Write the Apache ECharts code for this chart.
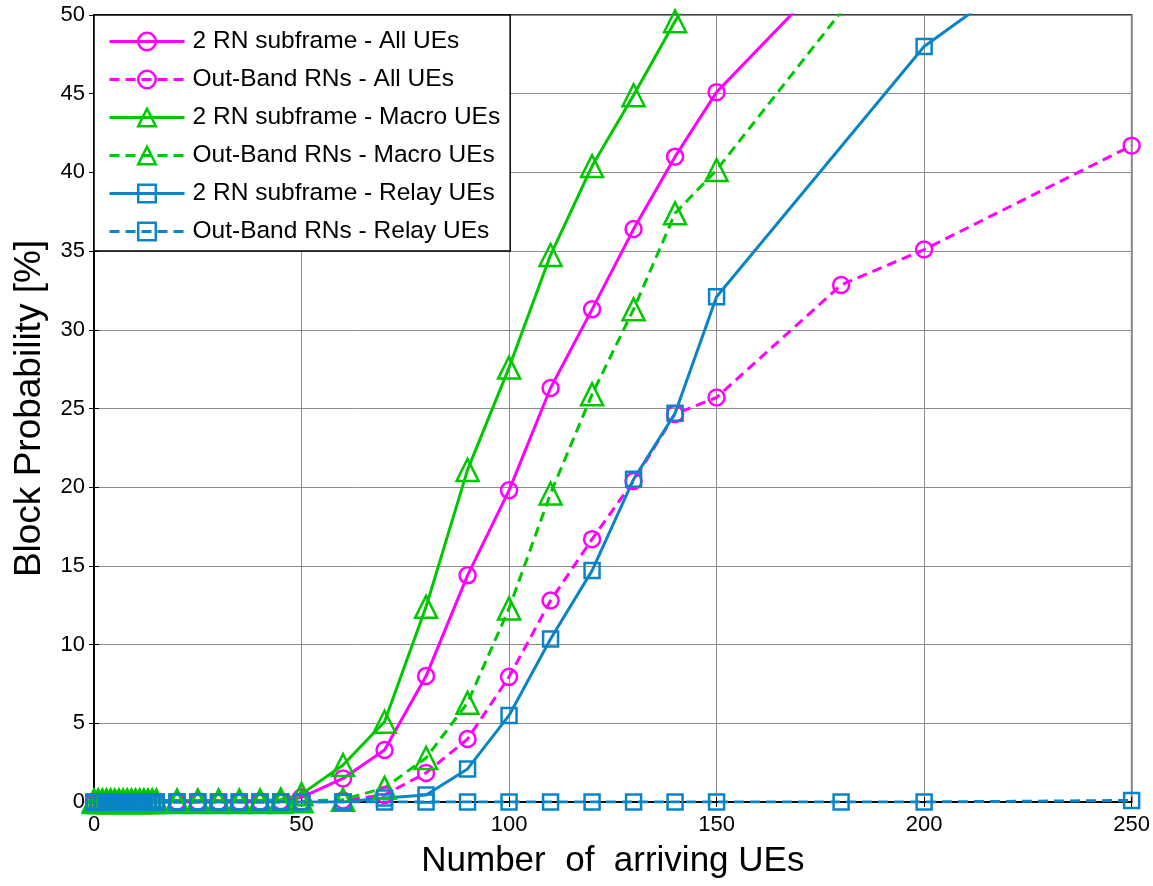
<!DOCTYPE html>
<html>
<head>
<meta charset="utf-8">
<script src="https://cdn.jsdelivr.net/npm/echarts@6/dist/echarts.min.js"></script>
<style>
html,body{margin:0;padding:0;background:#fff;}
#chart{width:1153px;height:886px;}
</style>
</head>
<body>
<div id="chart"></div>
<script>
// Number of arriving UEs
var xValues = [0,1,2,3,4,5,6,7,8,9,10,11,12,13,14,15,20,25,30,35,40,45,50,60,70,80,90,100,110,120,130,140,150,180,200,250];

var allUEs2RN      = [0,0,0,0,0,0,0,0,0,0,0,0,0,0,0,0,0,0,0,0,0,0.05,0.3,1.5,3.3,8.0,14.4,19.8,26.3,31.3,36.4,41.0,45.1,53.3,57.5,66.0];
var allUEsOutBand  = [0,0,0,0,0,0,0,0,0,0,0,0,0,0,0,0,0,0,0,0,0,0,0,0.1,0.45,1.85,4.0,7.95,12.8,16.7,20.4,24.65,25.7,32.85,35.1,41.7];
var macroUEs2RN    = [0.1,0.1,0.1,0.1,0.1,0.1,0.1,0.1,0.1,0.1,0.1,0.1,0.1,0.1,0.1,0.1,0.1,0.1,0.1,0.1,0.1,0.15,0.5,2.35,5.1,12.4,21.1,27.6,34.75,40.4,44.9,49.6,54.0,62.0,66.0,75.0];
var macroUEsOutBand= [0,0,0,0,0,0,0,0,0,0,0,0,0,0,0,0,0,0,0,0,0,0,0.05,0.15,0.9,2.8,6.3,12.3,19.6,25.9,31.3,37.4,40.15,50.2,57.0,70.0];
var relayUEs2RN    = [0,0,0,0,0,0,0,0,0,0,0,0,0,0,0,0,0,0,0,0,0,0,0,0,0.25,0.45,2.1,5.5,10.35,14.7,20.5,24.7,32.1,null,48.0,57.5];
var relayUEsOutBand= [0,0,0,0,0,0,0,0,0,0,0,0,0,0,0,0,0,0,0,0,0,0,0,0,0,0,0,0,0,0,0,0,0,0,0,0.1];

var seriesNames = [
  '2 RN subframe - All UEs',
  'Out-Band RNs - All UEs',
  '2 RN subframe - Macro UEs',
  'Out-Band RNs - Macro UEs',
  '2 RN subframe - Relay UEs',
  'Out-Band RNs - Relay UEs'
];
var xTickValues = [0,50,100,150,200,250];
var yTickValues = [0,5,10,15,20,25,30,35,40,45,50];

var MAG = '#FF00FF', GRN = '#00C800', BLU = '#0B84C7';
var FONT = 'Liberation Sans, Arial, sans-serif';

function pairs(ys){
  var out = [];
  for (var i = 0; i < xValues.length; i++) out.push([xValues[i], ys[i]]);
  return out;
}
function mk(name, ys, color, symbol, size, dashed){
  return {
    name: name, type: 'line', data: pairs(ys),
    symbol: symbol, symbolSize: size, showSymbol: true,
    connectNulls: true, clip: true,
    lineStyle: {color: color, width: 3, type: dashed ? [10,6] : 'solid'},
    itemStyle: {color: 'rgba(255,255,255,0)', borderColor: color, borderWidth: 2.5},
    emphasis: {disabled: true},
    animation: false
  };
}

var chart = echarts.init(document.getElementById('chart'));
var tickLabel = {fontFamily: FONT, fontSize: 22, color: '#000'};
chart.setOption({
  backgroundColor: '#fff',
  animation: false,
  grid: {left: 94, right: 21, top: 15, bottom: 84, show: true, borderColor: '#000', borderWidth: 1.5},
  legend: {
    orient: 'vertical', left: 94, top: 15,
    data: seriesNames,
    itemWidth: 75, itemHeight: 22, itemGap: 13,
    padding: [14, 10, 7, 14],
    backgroundColor: '#fff', borderColor: '#000', borderWidth: 1.5, borderRadius: 0,
    lineStyle: {width: 3},
    itemStyle: {borderWidth: 2.5},
    textStyle: {fontFamily: FONT, fontSize: 24.5, color: '#000', padding: [0,0,0,3]}
  },
  xAxis: [{
    type: 'value', min: 0, max: 250, interval: 50,
    name: 'Number  of  arriving UEs', nameLocation: 'middle', nameGap: 42,
    nameTextStyle: {fontFamily: FONT, fontSize: 35, color: '#000'},
    axisLine: {show: true, lineStyle: {color: '#000', width: 1.5}},
    axisTick: {show: true, inside: true, length: 5, lineStyle: {color: '#000'}},
    axisLabel: Object.assign({margin: 12, formatter: function(v){ return xTickValues.indexOf(v) >= 0 ? String(v) : ''; }}, tickLabel),
    splitLine: {show: true, lineStyle: {color: '#8c8c8c', width: 1}}
  },{
    type: 'value', min: 0, max: 250, interval: 50, position: 'top',
    axisLine: {show: true, lineStyle: {color: '#000', width: 1.5}},
    axisTick: {show: true, inside: true, length: 5, lineStyle: {color: '#000'}},
    axisLabel: {show: false}, splitLine: {show: false}
  }],
  yAxis: [{
    type: 'value', min: 0, max: 50, interval: 5,
    name: 'Block Probability [%]', nameLocation: 'middle', nameGap: 46,
    nameTextStyle: {fontFamily: FONT, fontSize: 37, color: '#000'},
    axisLine: {show: true, lineStyle: {color: '#000', width: 1.5}},
    axisTick: {show: true, inside: true, length: 5, lineStyle: {color: '#000'}},
    axisLabel: Object.assign({margin: 9, formatter: function(v){ return yTickValues.indexOf(v) >= 0 ? String(v) : ''; }}, tickLabel),
    splitLine: {show: true, lineStyle: {color: '#8c8c8c', width: 1}}
  },{
    type: 'value', min: 0, max: 50, interval: 5, position: 'right',
    axisLine: {show: true, lineStyle: {color: '#000', width: 1.5}},
    axisTick: {show: true, inside: true, length: 5, lineStyle: {color: '#000'}},
    axisLabel: {show: false}, splitLine: {show: false}
  }],
  series: [
    mk(seriesNames[0], allUEs2RN, MAG, 'circle', 16, false),
    mk(seriesNames[1], allUEsOutBand, MAG, 'circle', 16, true),
    mk(seriesNames[2], macroUEs2RN, GRN, 'triangle', 22, false),
    mk(seriesNames[3], macroUEsOutBand, GRN, 'triangle', 22, true),
    mk(seriesNames[4], relayUEs2RN, BLU, 'rect', 15, false),
    mk(seriesNames[5], relayUEsOutBand, BLU, 'rect', 15, true)
  ]
});
</script>
</body>
</html>
